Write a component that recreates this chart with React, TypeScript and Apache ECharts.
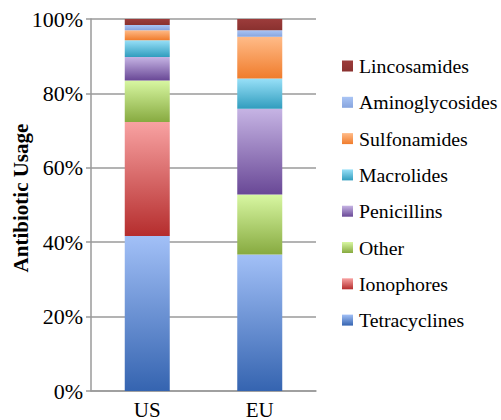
import React, { useEffect, useRef } from "react";
import * as echarts from "echarts";

const categories = ["US", "EU"];
const seriesNames = [
  "Tetracyclines",
  "Ionophores",
  "Other",
  "Penicillins",
  "Macrolides",
  "Sulfonamides",
  "Aminoglycosides",
  "Lincosamides",
];
const tetracyclines = [41.7, 36.7];
const ionophores = [30.6, 0];
const other = [11.2, 16.1];
const penicillins = [6.3, 23.1];
const macrolides = [4.5, 8.1];
const sulfonamides = [2.7, 11.2];
const aminoglycosides = [1.4, 1.8];
const lincosamides = [1.6, 3.0];
const yTicks = [0, 20, 40, 60, 80, 100];
const yTitle = "Antibiotic Usage";

const values = [
  tetracyclines,
  ionophores,
  other,
  penicillins,
  macrolides,
  sulfonamides,
  aminoglycosides,
  lincosamides,
];

const gradients: [string, string][] = [
  ["#a2c0f7", "#3564b0"],
  ["#f8a2a2", "#b52d2d"],
  ["#d8f7a2", "#87aa40"],
  ["#c6b4e4", "#694896"],
  ["#98e0f8", "#319dbe"],
  ["#ffbb88", "#f07c2c"],
  ["#aac5f5", "#86a4de"],
  ["#9c3c3b", "#8a312f"],
];

const FONT = "'Liberation Serif', 'Times New Roman', serif";
const LEGEND_FONT = "'Times New Roman', 'Liberation Serif', serif";

const grad = (i: number) =>
  new echarts.graphic.LinearGradient(0, 0, 0, 1, [
    { offset: 0, color: gradients[i][0] },
    { offset: 1, color: gradients[i][1] },
  ]);

export default function App() {
  const ref = useRef<HTMLDivElement>(null);
  useEffect(() => {
    if (!ref.current) return;
    const chart = echarts.init(ref.current, undefined, { renderer: "svg" });
    const series = seriesNames.map((name, i) => ({
      name,
      type: "bar",
      stack: "total",
      barWidth: 45,
      data: values[i],
      itemStyle: { color: grad(i) },
    }));
    const legendItems: any[] = [];
    const order = seriesNames.map((_, i) => i).reverse();
    order.forEach((si, row) => {
      const cy = 66 + row * 36.3;
      legendItems.push({
        type: "rect",
        shape: { x: 342, y: cy - 5.5, width: 11, height: 11 },
        style: { fill: grad(si) },
      });
      legendItems.push({
        type: "text",
        x: 359,
        y: cy,
        style: {
          text: seriesNames[si],
          fontFamily: LEGEND_FONT,
          fontSize: 19.8,
          fill: "#000",
          align: "left",
          verticalAlign: "middle",
        },
      });
    });
    chart.setOption({
      animation: false,
      textStyle: { fontFamily: FONT },
      grid: { left: 91, right: 185, top: 19, bottom: 23 },
      graphic: [
        {
          type: "text",
          x: 21,
          y: 198,
          rotation: Math.PI / 2,
          style: {
            text: yTitle,
            fontFamily: FONT,
            fontSize: 21,
            fontWeight: "bold",
            fill: "#000",
            align: "center",
            verticalAlign: "middle",
          },
        },
        ...legendItems,
      ],
      xAxis: {
        type: "category",
        data: categories,
        axisLine: { lineStyle: { color: "#9a9a9a", width: 1.5 } },
        axisTick: { show: false },
        axisLabel: { color: "#000", fontSize: 21, fontFamily: FONT, margin: 8 },
      },
      yAxis: {
        type: "value",
        min: yTicks[0],
        max: yTicks[yTicks.length - 1],
        interval: 20,
        axisLine: { show: true, lineStyle: { color: "#9a9a9a", width: 1.5 } },
        axisTick: { show: true, length: 5, lineStyle: { color: "#9a9a9a", width: 1.5 } },
        axisLabel: {
          color: "#000",
          fontSize: 22,
          fontFamily: FONT,
          margin: 8,
          formatter: "{value}%",
        },
        splitLine: { lineStyle: { color: "#9a9a9a", width: 1.5 } },
      },
      series,
    });
    return () => chart.dispose();
  }, []);
  return (
    <div
      ref={ref}
      style={{ position: "absolute", left: 0, top: 0, width: 501, height: 420, background: "#fff" }}
    />
  );
}
